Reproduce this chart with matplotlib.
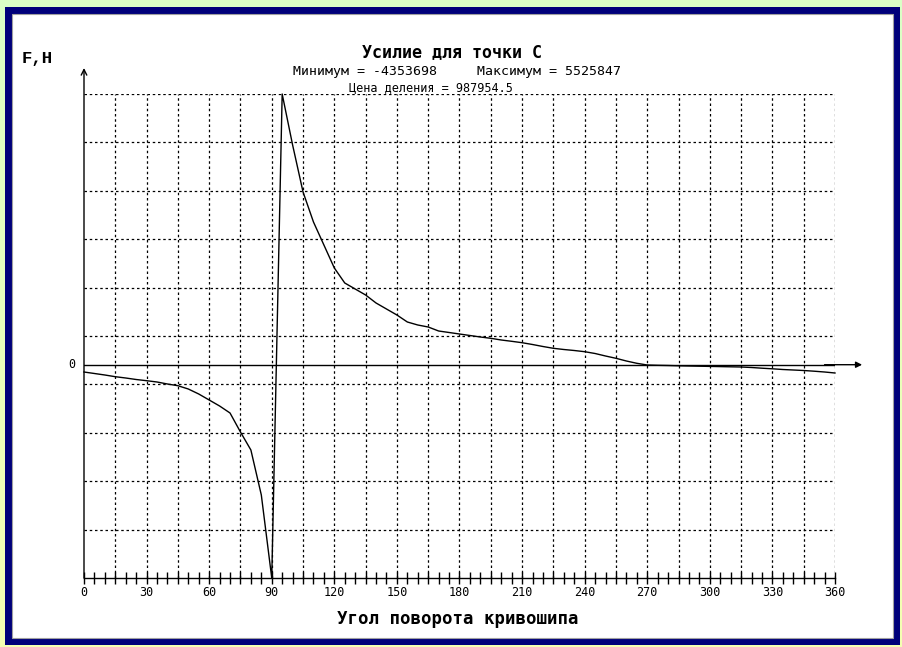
import numpy as np
import matplotlib
matplotlib.use("Agg")
import matplotlib.pyplot as plt
from matplotlib.patches import Rectangle

# ---------------- data ----------------
angles = list(range(0, 361, 5))
force = [
    -149000, -179400, -210000, -244700, -271300, -301900, -326400, -352900,
    -393800, -428500, -495800, -597900, -720300, -842800, -985700, -1373500,
    -1741000, -2659500, -4353698, 5525847, 4484800, 3525400, 2913000, 2443600,
    1974100, 1667900, 1545400, 1422900, 1259600, 1137200, 1014700, 871800,
    810600, 769700, 688100, 657500, 626900, 596200, 565600, 539100,
    504400, 477900, 449300, 412500, 371700, 335000, 310500, 290100,
    265600, 228800, 177800, 130800, 75700, 28800, -5900, -12000,
    -16100, -22200, -26300, -30400, -34500, -38600, -42700, -46700,
    -57000, -71200, -83500, -97800, -108000, -118200, -132500, -148800,
    -169200,
]
f_min = -4353698
f_max = 5525847
division = 987954.5
xtick_labels = ["0", "30", "60", "90", "120", "150", "180", "210",
                "240", "270", "300", "330", "360"]
title = "Усилие для точки С"
subtitle = "Минимум = -4353698     Максимум = 5525847"
division_text = "Цена деления = 987954.5"
xlabel = "Угол поворота кривошипа"
ylabel = "F,H"

W, H = 903, 647
fig = plt.figure(figsize=(W / 100, H / 100), dpi=100)

def fx(px):
    return px / W

def fy(py):
    return 1 - py / H

# background gradient
bg = fig.add_axes([0, 0, 1, 1], zorder=0)
bg.set_axis_off()
top_c = np.array([0.855, 1.0, 0.78])
bot_c = np.array([0.96, 1.0, 0.70])
t = np.linspace(0, 1, 256)[:, None]
grad = (top_c[None, :] * (1 - t) + bot_c[None, :] * t)[:, None, :]
bg.imshow(grad, aspect="auto", extent=[0, 1, 0, 1], origin="upper")
bg.set_xlim(0, 1)
bg.set_ylim(0, 1)
# navy frame and white panel
bg.add_patch(Rectangle((fx(5), fy(645)), fx(900) - fx(5), fy(7) - fy(645),
                       facecolor="#00007a", edgecolor="none"))
bg.add_patch(Rectangle((fx(12), fy(638)), fx(893) - fx(12), fy(14) - fy(638),
                       facecolor="white", edgecolor="#a0a0a0", linewidth=0.8))

# main axes
L, R, T, B = 84, 835, 94, 578
ax = fig.add_axes([fx(L), fy(B), fx(R) - fx(L), fy(T) - fy(B)], zorder=2)
ax.set_facecolor("none")
ax.set_xlim(0, 360)
ax.set_ylim(f_min, f_max)
for s in ["top", "right", "left"]:
    ax.spines[s].set_visible(False)
ax.spines["bottom"].set_linewidth(1.0)

# grid
grid_kw = dict(color="black", linewidth=0.9, linestyles=(0, (2, 2.2)), zorder=1)
ylevels = f_min + division * np.arange(1, 11)
ax.hlines(ylevels, 0, 360, **grid_kw)
ax.vlines(np.arange(15, 361, 15), f_min, f_max, **grid_kw)

# ticks
ax.set_xticks(np.arange(0, 361, 5))
ax.set_xticklabels([lbl if i % 6 == 0 else "" for i, lbl in
                    enumerate([xtick_labels[i // 6] if i % 6 == 0 else "" for i in range(73)])],
                   fontfamily="DejaVu Sans Mono", fontsize=8.5)
ax.tick_params(axis="x", direction="inout", length=8, width=1.0, pad=2)
ax.set_yticks([])

# zero line with arrow
ax.plot([0, 360], [0, 0], color="black", lw=1.0, zorder=3)
ax.annotate("", xy=(373, 0), xytext=(355, 0), xycoords="data",
            arrowprops=dict(arrowstyle="-|>", color="black", lw=1.0,
                            mutation_scale=9, shrinkA=0, shrinkB=0),
            annotation_clip=False)
# y axis with arrow
ax.annotate("", xy=(0, f_max + 26 * (f_max - f_min) / 484), xytext=(0, f_min),
            xycoords="data",
            arrowprops=dict(arrowstyle="->", color="black", lw=1.0,
                            mutation_scale=10, shrinkA=0, shrinkB=0),
            annotation_clip=False)
ax.text(-4, 0, "0", ha="right", va="center", fontsize=8.5,
        fontfamily="DejaVu Sans Mono")

# curve
ax.plot(angles, force, color="black", lw=1.0, zorder=4, clip_on=False)

# texts
fig.text(fx(452), fy(52), title, ha="center", va="center", fontsize=12,
         fontweight="bold", fontfamily="DejaVu Sans Mono", zorder=5)
fig.text(fx(457), fy(72), subtitle, ha="center", va="center", fontsize=9.5,
         fontfamily="DejaVu Sans Mono", zorder=5)
fig.text(fx(431), fy(88), division_text, ha="center", va="center", fontsize=8.5,
         fontfamily="DejaVu Sans Mono", zorder=5)
fig.text(fx(22), fy(58), ylabel, ha="left", va="center", fontsize=12.5,
         fontweight="bold", fontfamily="Liberation Mono", zorder=5)
fig.text(fx(458), fy(619), xlabel, ha="center", va="center", fontsize=12.5,
         fontweight="bold", fontfamily="DejaVu Sans Mono", zorder=5)

fig.savefig("out.png", dpi=100)
